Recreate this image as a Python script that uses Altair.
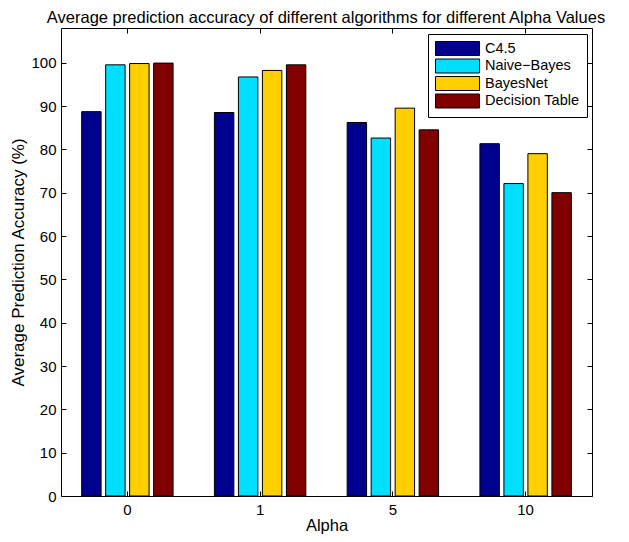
import altair as alt
import pandas as pd

alphas = ["0", "1", "5", "10"]
algos = ["C4.5", "Naive\u2212Bayes", "BayesNet", "Decision Table"]
c45 = [88.7, 88.5, 86.2, 81.3]
naive = [99.5, 96.7, 82.6, 72.1]
bayesnet = [99.8, 98.2, 89.5, 79.0]
dtable = [99.9, 99.5, 84.5, 70.0]
colors = ["#00008F", "#00DFFF", "#FFCF00", "#800000"]
yticks = [0, 10, 20, 30, 40, 50, 60, 70, 80, 90, 100]
title_text = "Average prediction accuracy of different algorithms for different Alpha Values"

rows = []
for name, vals in zip(algos, [c45, naive, bayesnet, dtable]):
    for a, v in zip(alphas, vals):
        rows.append({"alpha": a, "algo": name, "acc": v})
df = pd.DataFrame(rows)

FONT = "Liberation Sans"

xscale = alt.Scale(paddingInner=0.277, paddingOuter=0.1385)
yscale = alt.Scale(domain=[0, 108], nice=False, zero=True)

bars = alt.Chart(df).mark_bar(stroke="black", strokeWidth=1).encode(
    x=alt.X("alpha:N", sort=alphas, scale=xscale,
            axis=alt.Axis(orient="bottom", offset=-5, tickSize=5, domain=False,
                          labelPadding=6, labelAngle=0, title="Alpha",
                          titlePadding=0, titleFontSize=16.5)),
    xOffset=alt.XOffset("algo:N", sort=algos,
                        scale=alt.Scale(paddingInner=0.19, paddingOuter=0.095)),
    y=alt.Y("acc:Q", scale=yscale,
            axis=alt.Axis(orient="left", offset=-5, tickSize=5, domain=False,
                          values=yticks, labelPadding=5,
                          title="Average Prediction Accuracy (%)", titlePadding=3,
                          titleFontSize=17)),
    color=alt.Color("algo:N", sort=algos,
                    scale=alt.Scale(domain=algos, range=colors),
                    legend=alt.Legend(title=None, orient="none", legendX=367, legendY=6,
                                      symbolType="M-1,-1H5.29V1H-1Z", symbolSize=196,
                                      symbolStrokeColor="black", symbolStrokeWidth=1,
                                      symbolOpacity=1, labelOffset=35, rowPadding=-1.5,
                                      padding=7, strokeColor="black", fillColor="white",
                                      cornerRadius=0, labelFontSize=14.5, labelFont=FONT,
                                      labelColor="black")),
)

frame = alt.Chart(df).mark_bar(opacity=0).encode(
    x=alt.X("alpha:N", sort=alphas, scale=xscale,
            axis=alt.Axis(orient="top", offset=-5, tickSize=5, domain=False,
                          labels=False, title=None)),
    y=alt.Y("acc:Q", scale=yscale,
            axis=alt.Axis(orient="right", offset=-5, tickSize=5, domain=False,
                          values=yticks, labels=False, title=None)),
)

title = alt.Chart(pd.DataFrame({"t": [title_text]})).mark_text(
    font=FONT, fontSize=16.5, color="black", align="center", baseline="alphabetic"
).encode(
    text="t:N",
    x=alt.value(265),
    y=alt.value(-5),
)

chart = alt.layer(bars, frame, title).resolve_axis(x="independent", y="independent").properties(
    width=531, height=468,
    autosize=alt.AutoSizeParams(type="none"),
    padding={"left": 53, "top": 20, "right": 29, "bottom": 38},
).configure_view(stroke="black", strokeWidth=1).configure_axis(
    labelFont=FONT, titleFont=FONT, labelFontSize=15, titleFontSize=16,
    labelColor="black", titleColor="black", tickColor="black", tickWidth=1,
    titleFontWeight="normal", grid=False,
)

chart.save("out.html", embed_options={"renderer": "svg", "actions": False})
